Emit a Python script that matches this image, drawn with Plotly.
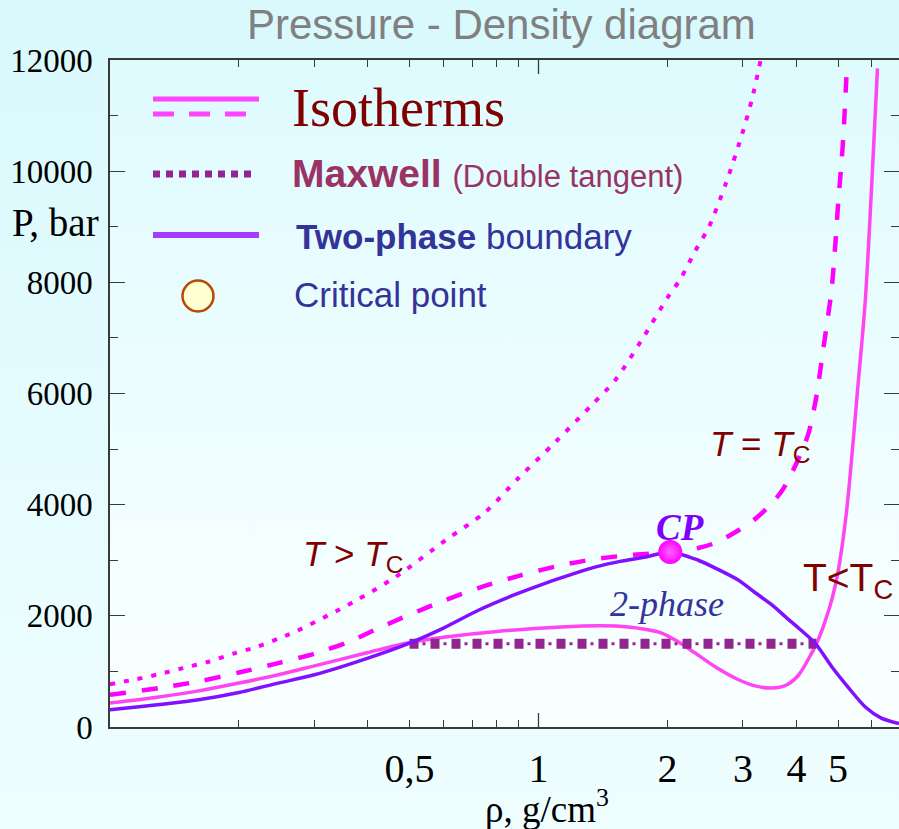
import base64
import plotly.graph_objects as go

# ---------------- data ----------------
# density (g/cm^3) and pressure (bar)
rho_sub = [0.1, 0.13, 0.161, 0.2, 0.247, 0.3, 0.4, 0.5, 0.607, 0.8, 1.13, 1.4, 1.62, 1.8, 1.94,
           2.1, 2.32, 2.6, 2.93, 3.2, 3.5, 3.8, 4.05, 4.34, 4.46, 4.65, 4.84, 4.99, 5.23,
           5.58, 5.79, 6.18]
P_sub = [430, 540, 650, 790, 940, 1100, 1340, 1520, 1620, 1720, 1800, 1820, 1800, 1750, 1690,
         1550, 1330, 1070, 850, 740, 700, 760, 940, 1330, 1510, 1870, 2300, 2750, 3850,
         6240, 7680, 11850]

rho_crit = [0.1, 0.13, 0.161, 0.2, 0.247, 0.3, 0.36, 0.424, 0.5, 0.6, 0.724, 0.9, 1.13, 1.35,
            1.62, 2.03, 2.36, 2.6, 2.93, 3.2, 3.44, 3.7, 3.9, 4.1, 4.27, 4.45, 4.6, 4.72,
            4.83, 4.93, 5.01, 5.1, 5.15, 5.23]
P_crit = [580, 700, 820, 980, 1150, 1320, 1530, 1780, 2020, 2270, 2500, 2720, 2910, 3020,
          3090, 3150, 3220, 3320, 3540, 3740, 3960, 4250, 4570, 4930, 5290, 5940, 6700, 7300,
          7860, 8700, 9480, 10200, 10680, 11690]

rho_super = [0.1, 0.115, 0.13, 0.148, 0.169, 0.196, 0.22, 0.249, 0.27, 0.37, 0.464, 0.607, 0.752,
             0.898, 1.096, 1.33, 1.51, 1.74, 2.01, 2.14, 2.32, 2.5, 2.74, 2.99, 3.15, 3.3]
P_super = [770, 860, 950, 1060, 1170, 1330, 1440, 1600, 1710, 2250, 2700, 3360, 3870,
           4480, 5130, 5790, 6240, 6960, 7750, 8050, 8560, 9000, 9790, 10680, 11300, 12000]

rho_boundary = [0.1, 0.161, 0.2, 0.247, 0.3, 0.4, 0.5, 0.6, 0.724, 0.88, 1.04, 1.2, 1.36, 1.55,
                1.78, 2.03, 2.36, 2.6, 2.93, 3.2, 3.5, 3.8, 4.1, 4.43, 4.84, 5.3, 5.79, 6.31, 6.94]
P_boundary = [310, 490, 620, 790, 940, 1240, 1510, 1780, 2100, 2380, 2590, 2750, 2880, 2980,
              3060, 3150, 3000, 2850, 2640, 2420, 2200, 1960, 1740, 1500, 1080, 700, 360, 160, 60]

rho_maxwell = [0.5, 4.45]
P_maxwell = [1500, 1500]

rho_cp = [2.03]
P_cp = [3150]

x_tick_vals = [0.5, 1, 2, 3, 4, 5]
x_tick_text = ["0,5", "1", "2", "3", "4", "5"]
x_minor_vals = [0.2, 0.3, 0.4, 0.6, 0.7, 0.8, 0.9, 6]
y_tick_vals = [0, 2000, 4000, 6000, 8000, 10000, 12000]
y_tick_text = ["0", "2000", "4000", "6000", "8000", "10000", "12000"]

# ---------------- geometry helpers ----------------
W, H = 899, 829
ML, MR, MT, MB = 110, 0, 60, 102
PW, PH = W - ML - MR, H - MT - MB
XMIN = -1.0
XMAX = XMIN + PW / 428.5


def fx(px):
    return (px - ML) / PW


def fy(py):
    return (H - MB - py) / PH


def svg_gradient(top, bottom):
    svg = ('<svg xmlns="http://www.w3.org/2000/svg" width="100" height="100" '
           'preserveAspectRatio="none"><defs><linearGradient id="g" x1="0" y1="0" x2="0" y2="1">'
           f'<stop offset="0" stop-color="{top}"/><stop offset="1" stop-color="{bottom}"/>'
           '</linearGradient></defs><rect width="100" height="100" fill="url(#g)"/></svg>')
    return "data:image/svg+xml;base64," + base64.b64encode(svg.encode()).decode()


PINK = "#FF44F4"
MAGENTA = "#FF00FF"
VIOLET = "#8010FF"
MAXWELL = "#922690"

fig = go.Figure()

fig.add_trace(go.Scatter(x=rho_sub, y=P_sub, mode="lines",
                         line=dict(color=PINK, width=3.5, shape="spline", smoothing=0.8),
                         hoverinfo="skip"))
fig.add_trace(go.Scatter(x=rho_crit, y=P_crit, mode="lines",
                         line=dict(color=MAGENTA, width=4.5, dash="16px,16px", shape="spline", smoothing=0.8),
                         hoverinfo="skip"))
fig.add_trace(go.Scatter(x=rho_super, y=P_super, mode="lines",
                         line=dict(color=MAGENTA, width=4, dash="5px,9px", shape="spline", smoothing=0.8),
                         hoverinfo="skip"))
# Maxwell construction: square dashes with small dots between them
fig.add_trace(go.Scatter(x=rho_maxwell, y=P_maxwell, mode="lines",
                         line=dict(color=MAXWELL, width=10, dash="9px,12px"), hoverinfo="skip"))
fig.add_trace(go.Scatter(x=rho_maxwell, y=P_maxwell, mode="lines",
                         line=dict(color=MAXWELL, width=3, dash="0px,13px,3px,5px"), hoverinfo="skip"))
fig.add_trace(go.Scatter(x=rho_boundary, y=P_boundary, mode="lines",
                         line=dict(color=VIOLET, width=3.5, shape="spline", smoothing=0.8),
                         hoverinfo="skip"))
fig.add_trace(go.Scatter(x=rho_cp, y=P_cp, mode="markers",
                         marker=dict(size=24, color=MAGENTA, line=dict(width=0),
                                     gradient=dict(type="radial", color="#FF66FF")),
                         hoverinfo="skip"))
# right-hand tick axis carrier
fig.add_trace(go.Scatter(x=rho_cp, y=P_cp, yaxis="y2", mode="markers",
                         marker=dict(opacity=0), hoverinfo="skip"))

AX = "#3a3a3a"
fig.update_layout(
    width=W, height=H,
    margin=dict(l=ML, r=MR, t=MT, b=MB, pad=0),
    paper_bgcolor="#E8FDFF",
    plot_bgcolor="rgba(0,0,0,0)",
    showlegend=False,
    xaxis=dict(type="log", range=[XMIN, XMAX], showgrid=False, zeroline=False,
               showline=True, linecolor=AX, linewidth=1.5, mirror="ticks",
               ticks="inside", ticklen=7, tickwidth=1.3, tickcolor=AX,
               tickvals=x_tick_vals, ticktext=x_tick_text,
               tickfont=dict(family="Liberation Serif", size=40, color="#000"),
               ticklabelstandoff=5,
               minor=dict(tickvals=x_minor_vals, ticks="inside", ticklen=7, tickwidth=1.3, tickcolor=AX)),
    yaxis=dict(range=[0, 12000], showgrid=False, zeroline=False,
               showline=True, linecolor=AX, linewidth=1.5,
               ticks="inside", ticklen=15, tickwidth=1.3, tickcolor=AX,
               tickvals=y_tick_vals, ticktext=y_tick_text,
               tickfont=dict(family="Liberation Serif", size=33, color="#000"),
               ticklabelstandoff=9,
               minor=dict(dtick=1000, ticks="inside", ticklen=8, tickwidth=1.3, tickcolor=AX)),
    yaxis2=dict(range=[0, 12000], overlaying="y", side="right", anchor="x",
                showgrid=False, zeroline=False, showline=False, showticklabels=False,
                ticks="inside", ticklen=15, tickwidth=1.3, tickcolor=AX, tickvals=y_tick_vals,
                minor=dict(dtick=1000, ticks="inside", ticklen=8, tickwidth=1.3, tickcolor=AX)),
)

# gradient backgrounds
fig.add_layout_image(dict(source=svg_gradient("#D9F9FD", "#EFFEFF"), xref="paper", yref="paper",
                          x=fx(0), y=fy(0), sizex=W / PW, sizey=H / PH, sizing="stretch",
                          xanchor="left", yanchor="top", layer="below"))
fig.add_layout_image(dict(source=svg_gradient("#DFFBFE", "#FAFFFF"), xref="paper", yref="paper",
                          x=0, y=1, sizex=1, sizey=1, sizing="stretch",
                          xanchor="left", yanchor="top", layer="below"))

# long decade tick at rho = 1 (bottom and top)
f1 = (0 - XMIN) / (XMAX - XMIN)
for y0, y1 in [(0, 14 / PH), (1 - 14 / PH, 1)]:
    fig.add_shape(type="line", xref="paper", yref="paper", x0=f1, x1=f1, y0=y0, y1=y1,
                  line=dict(color=AX, width=1.3))

# ---------------- legend (drawn by hand) ----------------
lx0, lx1 = fx(153), fx(259)
fig.add_shape(type="line", xref="paper", yref="paper", x0=lx0, x1=lx1, y0=fy(99), y1=fy(99),
              line=dict(color="#FF44FF", width=5))
fig.add_shape(type="line", xref="paper", yref="paper", x0=lx0, x1=fx(250), y0=fy(114), y1=fy(114),
              line=dict(color="#FF44FF", width=5, dash="21px,15px"))
fig.add_shape(type="line", xref="paper", yref="paper", x0=lx0, x1=fx(253), y0=fy(174), y1=fy(174),
              line=dict(color=MAXWELL, width=7, dash="7px,6px"))
fig.add_shape(type="line", xref="paper", yref="paper", x0=lx0, x1=lx1, y0=fy(235), y1=fy(235),
              line=dict(color="#A43CFF", width=6))
fig.add_shape(type="circle", xref="paper", yref="paper", xsizemode="pixel", ysizemode="pixel",
              xanchor=fx(198), yanchor=fy(296), x0=-15.5, x1=15.5, y0=-15.5, y1=15.5,
              fillcolor="#FFFFD2", line=dict(color="#B84A00", width=2.5))

SANS = "Liberation Sans"


def label(text, px, py, size, color, family, xanchor="left", yanchor="middle"):
    fig.add_annotation(text=text, xref="paper", yref="paper", x=fx(px), y=fy(py),
                       xanchor=xanchor, yanchor=yanchor, showarrow=False,
                       font=dict(family=family, size=size, color=color))


label("Isotherms", 290, 108, 54, "#800000", "Liberation Serif")
label("<b>Maxwell</b> <span style='font-size:31px'>(Double tangent)</span>", 290, 173, 39,
      "#993366", SANS)
label("<b>Two-phase</b> boundary", 294, 236, 35, "#333399", SANS)
label("Critical point", 292, 294, 35, "#333399", SANS)

# title and axis labels
label("Pressure - Density diagram", 501, 25, 42, "#808080", SANS, xanchor="center")
label("P, bar", 10, 222, 39, "#000000", "Liberation Serif")
label("ρ, g/cm<sup>3</sup>", 547, 806, 37, "#000000", "Liberation Serif", xanchor="center")

# curve annotations
label("<i>T</i> > <i>T</i><sub>C</sub>", 301, 556, 35, "#800000", SANS)
label("<i>T</i> = <i>T</i><sub>C</sub>", 708, 446, 35, "#800000", SANS)
label("T&lt;T<sub>C</sub>", 801, 580, 39, "#800000", SANS)
label("<b><i>CP</i></b>", 680, 527, 37, "#8000FF", "Liberation Serif", xanchor="center")
label("<i>2-phase</i>", 667, 604, 36, "#333399", "Liberation Serif", xanchor="center")

fig.write_html("out.html")
